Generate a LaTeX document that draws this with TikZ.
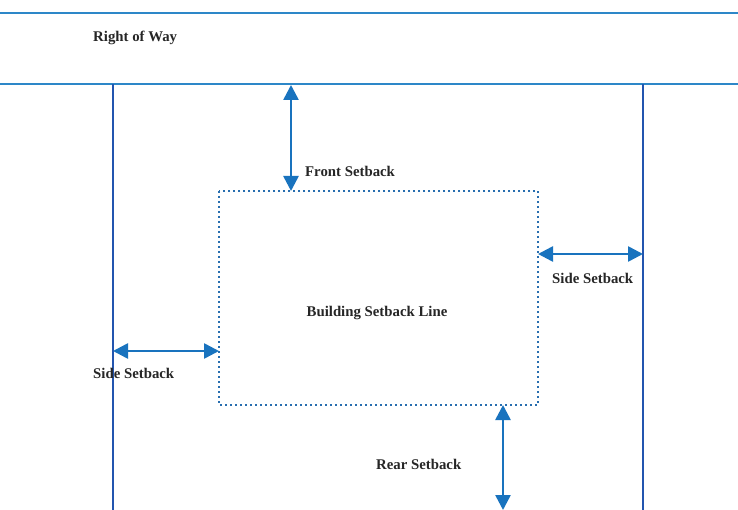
\documentclass[tikz,border=0pt]{standalone}
\usepackage{fontspec}
\setmainfont{Liberation Serif}
\usetikzlibrary{arrows.meta}
\definecolor{roadblue}{RGB}{45,135,200}
\definecolor{lotblue}{RGB}{35,85,175}
\definecolor{arrowblue}{RGB}{25,115,190}
\definecolor{dotblue}{RGB}{40,110,175}
\begin{document}
\begin{tikzpicture}[x=1pt,y=-1pt,
  lbl/.style={font=\fontsize{14.8}{17}\selectfont\bfseries, text=black!85, inner sep=0pt},
  road/.style={draw=roadblue, line width=2.2pt},
  lotline/.style={draw=lotblue, line width=1.6pt},
  dim/.style={draw=arrowblue, line width=2.6pt, {Triangle[length=15pt,width=15pt]}-{Triangle[length=15pt,width=15pt]}},
  envelope/.style={draw=dotblue, line width=1.8pt, dash pattern=on 1.8pt off 3.2pt}]
\useasboundingbox (0,0) rectangle (738,510);
\fill[white] (0,0) rectangle (738,510);
% right of way
\coordinate (rwl1) at (0,13); \coordinate (rwr1) at (738,13);
\coordinate (rwl2) at (0,84); \coordinate (rwr2) at (738,84);
\draw[road] (rwl1) -- (rwr1);
\draw[road] (rwl2) -- (rwr2);
% lot lines
\coordinate (lt) at (113,84); \coordinate (lb) at (113,510);
\coordinate (rt) at (643,84); \coordinate (rb) at (643,510);
\draw[lotline] (lt) -- (lb);
\draw[lotline] (rt) -- (rb);
% building setback envelope
\coordinate (bnw) at (219,191); \coordinate (bse) at (538,405);
\draw[envelope] (bnw) rectangle (bse);
% dimension arrows
\coordinate (fa) at (291,85); \coordinate (fb) at (291,191);
\draw[dim] (fa) -- (fb);
\coordinate (ra) at (538,254); \coordinate (rb2) at (643,254);
\draw[dim] (ra) -- (rb2);
\coordinate (la) at (113,351); \coordinate (lb2) at (219,351);
\draw[dim] (la) -- (lb2);
\coordinate (ba) at (503,405); \coordinate (bb) at (503,510);
\draw[dim] (ba) -- (bb);
% labels
\node[lbl, anchor=west] (row) at (93,38) {Right of Way};
\node[lbl, anchor=west] (front) at (305,171) {Front Setback};
\node[lbl, anchor=west] (sider) at (552,278) {Side Setback};
\node[lbl, anchor=west] (sidel) at (93,373) {Side Setback};
\node[lbl] (bsl) at (377,313) {Building Setback Line};
\node[lbl, anchor=west] (rear) at (376,464) {Rear Setback};
\end{tikzpicture}
\end{document}
